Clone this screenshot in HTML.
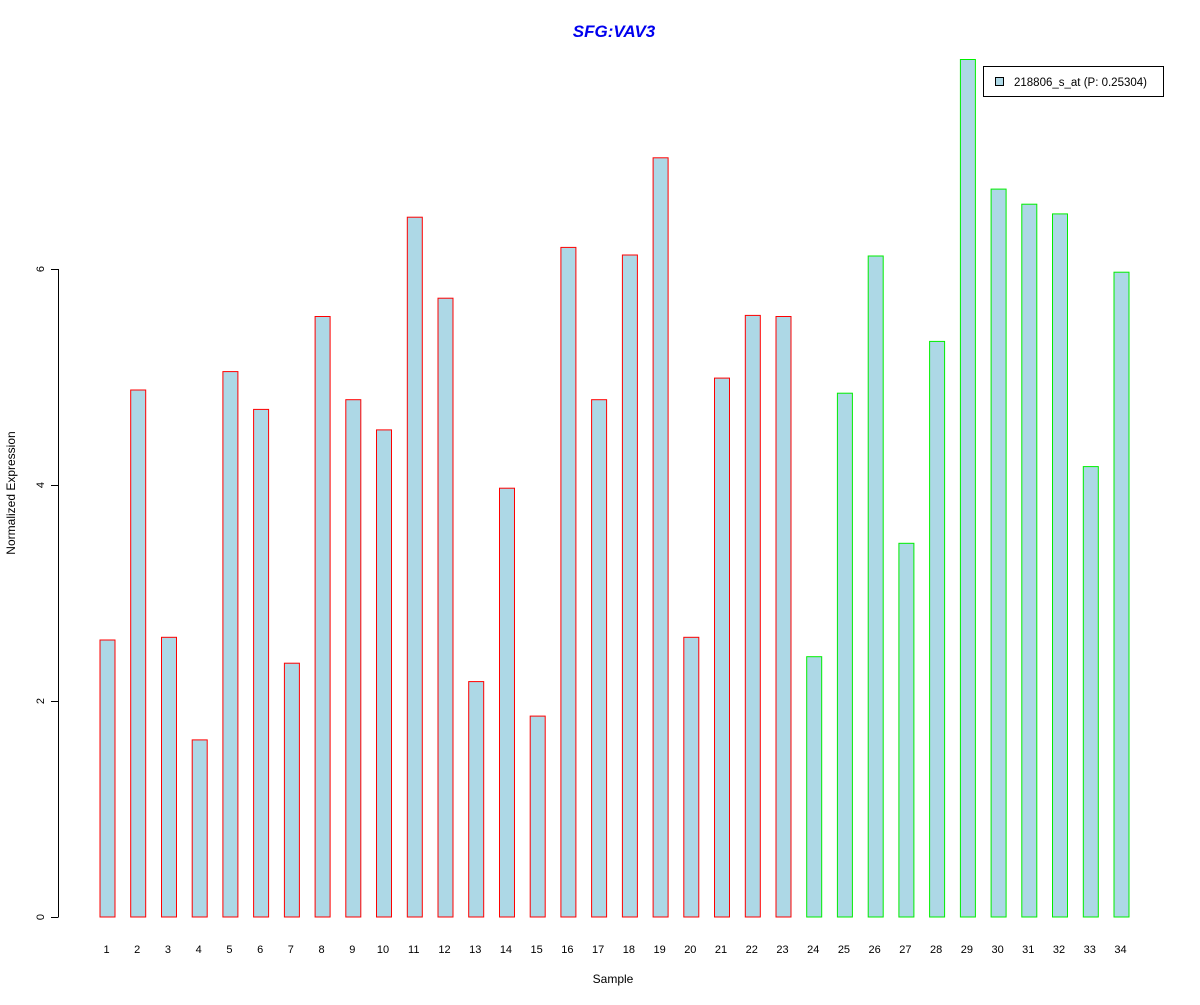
<!DOCTYPE html>
<html><head><meta charset="utf-8"><style>
html,body{margin:0;padding:0;background:#fff;}
svg text{font-family:"Liberation Sans",Arial,sans-serif;}
</style></head><body>
<svg id="chart" width="1200" height="1000" xmlns="http://www.w3.org/2000/svg">
<rect width="1200" height="1000" fill="#fff"/>
<text x="614" y="37" text-anchor="middle" font-size="17" font-weight="bold" font-style="italic" fill="#0000ee">SFG:VAV3</text>
<text x="613" y="983" text-anchor="middle" font-size="12">Sample</text>
<text transform="translate(15,493) rotate(-90)" text-anchor="middle" font-size="12">Normalized Expression</text>
<g id="yaxis"></g>
<g id="bars"></g>
<g id="xlabels"></g>
<g>
<rect x="983.5" y="66.5" width="180" height="30" fill="#fff" stroke="#000"/>
<rect x="995.5" y="77.5" width="8" height="8" fill="#add8e6" stroke="#000"/>
<text x="1014" y="86" font-size="11.5">218806_s_at (P: 0.25304)</text>
</g>
</svg>
<script>
const categories = ["1","2","3","4","5","6","7","8","9","10","11","12","13","14","15","16","17","18","19","20","21","22","23","24","25","26","27","28","29","30","31","32","33","34"];
const values = [2.565,4.88,2.59,1.64,5.05,4.70,2.35,5.56,4.79,4.51,6.48,5.73,2.18,3.97,1.86,6.20,4.79,6.13,7.03,2.59,4.99,5.57,5.56,2.41,4.85,6.12,3.46,5.33,7.94,6.74,6.60,6.51,4.17,5.97];
const groups = ["a","a","a","a","a","a","a","a","a","a","a","a","a","a","a","a","a","a","a","a","a","a","a","b","b","b","b","b","b","b","b","b","b","b"];
const yTicks = [0,2,4,6];
const NS="http://www.w3.org/2000/svg";
function y(v){return 917 - v*108;}
function x(i){return 107.5 + i*30.727;}
const bars=document.getElementById('bars');
values.forEach((v,i)=>{
  const r=document.createElementNS(NS,'rect');
  
  
  r.setAttribute('x',(x(i)-7.5).toFixed(1));
  r.setAttribute('y',y(v).toFixed(1));
  r.setAttribute('width',15);
  r.setAttribute('height',(917-y(v)).toFixed(1));
  r.setAttribute('fill','#add8e6');
  r.setAttribute('stroke',groups[i]==='a'?'#ff0000':'#00ee00');
  bars.appendChild(r);
  const t=document.createElementNS(NS,'text');
  
  
  t.setAttribute('x',x(i)-1);t.setAttribute('y',953);
  t.setAttribute('text-anchor','middle');t.setAttribute('font-size','11');
  t.textContent=categories[i];
  document.getElementById('xlabels').appendChild(t);
});
const ya=document.getElementById('yaxis');
const ln=document.createElementNS(NS,'line');


ln.setAttribute('x1',58.5);ln.setAttribute('x2',58.5);
ln.setAttribute('y1',y(yTicks[0]));ln.setAttribute('y2',y(yTicks[yTicks.length-1]));
ln.setAttribute('stroke','#000');ya.appendChild(ln);
yTicks.forEach(v=>{
  const tk=document.createElementNS(NS,'line');
  
  
  tk.setAttribute('x1',51);tk.setAttribute('x2',58.5);
  tk.setAttribute('y1',y(v)+0.5);tk.setAttribute('y2',y(v)+0.5);
  tk.setAttribute('stroke','#000');ya.appendChild(tk);
  const t=document.createElementNS(NS,'text');
  
  
  t.setAttribute('transform','translate(44,'+y(v)+') rotate(-90)');
  t.setAttribute('text-anchor','middle');t.setAttribute('font-size','11');
  t.textContent=v;ya.appendChild(t);
});
</script>
</body></html>
